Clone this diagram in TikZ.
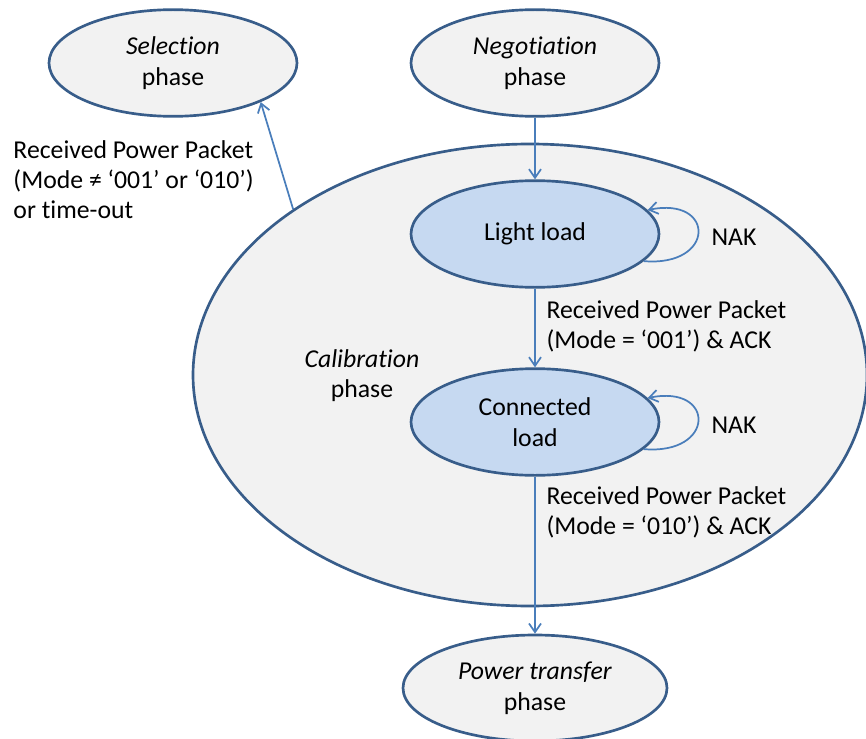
\documentclass[tikz,border=0pt]{standalone}
\usepackage{fontspec}
\setmainfont[Ligatures={NoCommon,NoContextual,NoRare},Contextuals=NoAlternate,RawFeature={-liga;-clig;-calt}]{Carlito}
\usetikzlibrary{shapes.geometric,arrows.meta}

\tikzset{every picture/.style={line width=0.75pt}}

\begin{document}
\begin{tikzpicture}[x=0.75pt,y=0.75pt,yscale=-1,xscale=1,
  phase/.style={ellipse, draw={rgb, 255:red, 56; green, 93; blue, 138 }, line width=2pt, fill={rgb, 255:red, 242; green, 242; blue, 242 }, inner sep=0pt, align=center, font=\fontsize{19.3}{23}\selectfont, minimum width=186pt, minimum height=80pt},
  state/.style={phase, fill={rgb, 255:red, 198; green, 217; blue, 241 }},
  link/.style={draw={rgb, 255:red, 74; green, 126; blue, 187 }, line width=1.3pt, -{Straight Barb[length=6.5pt,width=9pt]}},
  lbl/.style={inner sep=0pt, align=left, font=\fontsize{19.3}{22.6}\selectfont}]
\path[use as bounding box] (0,0) rectangle (866,738);

%Shape: Ellipse
\node[phase, minimum width=505.5pt, minimum height=346.5pt] (cal) at (530,375) {};
%Shape: Ellipse
\node[phase] (sel) at (173,63) {\textit{Selection}\\phase};
%Shape: Ellipse
\node[phase] (neg) at (535,63) {\textit{Negotiation}\\phase};
%Shape: Ellipse
\node[state] (ll) at (535,234) {Light load};
%Shape: Ellipse
\node[state] (cl) at (535,422) {Connected\\load};
%Shape: Ellipse
\node[phase, minimum width=198pt, minimum height=79.5pt] (pt) at (535,688) {\textit{Power transfer}\\phase};

%Text
\node[lbl, align=center] (caltxt) at (362,376) {\textit{Calibration}\\phase};

%Straight Lines
\draw[link] (neg) -- (ll);
%Straight Lines
\draw[link] (ll) -- (cl);
%Straight Lines
\draw[link] (cl) -- (pt);
%Straight Lines
\draw[link] (cal.145.5) -- (sel.-24);
%Curve Lines
\draw[link] (ll.-14) .. controls +(72,6) and +(68,-14) .. (ll.12);
%Curve Lines
\draw[link] (cl.-14) .. controls +(72,6) and +(68,-14) .. (cl.12);

%Text
\node[lbl, anchor=west] (timeout) at (13,180) {Received Power Packet\\(Mode ≠ ‘001’ or ‘010’)\\or time-out};
%Text
\node[lbl, anchor=west] (nak1) at (711,237) {NAK};
%Text
\node[lbl, anchor=west] (nak2) at (711,425) {NAK};
%Text
\node[lbl, anchor=west] (ack1) at (546,326) {Received Power Packet\\(Mode = ‘001’) \& ACK};
%Text
\node[lbl, anchor=west] (ack2) at (546,512) {Received Power Packet\\(Mode = ‘010’) \& ACK};

\end{tikzpicture}
\end{document}
